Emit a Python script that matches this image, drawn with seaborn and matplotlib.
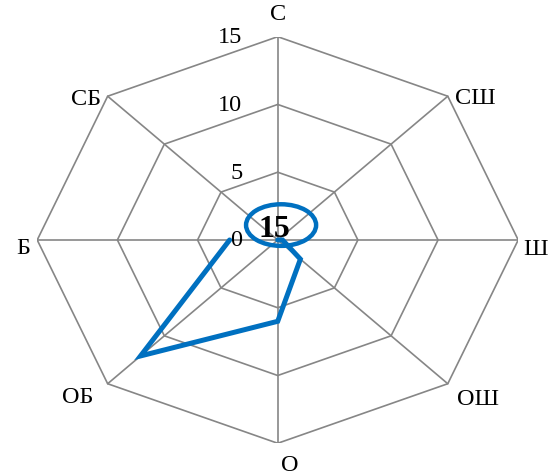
import numpy as np
import pandas as pd
import matplotlib
matplotlib.use("Agg")
import matplotlib.pyplot as plt
from matplotlib.patches import Ellipse
import seaborn as sns

# ============================================================================
# Data
# ============================================================================
directions = ["С", "СШ", "Ш", "ОШ", "О", "ОБ", "Б", "СБ"]
values = [0, 0, 0.3, 2.0, 6.0, 12.1, 3.0, 0]
ring_levels = [0, 5, 10, 15]
calm_label = "15"

# label offsets in pixels (dx, dy), with alignment
label_offsets = {
    "С": (0, 13, "center", "bottom"),
    "СШ": (7, -1, "left", "center"),
    "Ш": (5, -9, "left", "center"),
    "ОШ": (9, -15, "left", "center"),
    "О": (12, -11, "center", "top"),
    "ОБ": (-14, -13, "right", "center"),
    "Б": (-7, -8, "right", "center"),
    "СБ": (-7, -2, "right", "center"),
}

sns.set_theme(style="white")
plt.rcParams['font.family'] = ['Liberation Serif', 'DejaVu Serif']

line_color = "#0070C0"
grid_color = "#868686"

fig = plt.figure(figsize=(5.53, 4.77), dpi=100, facecolor="white")
ax = fig.add_axes([0.0673, 0.0686, 0.8698, 0.8524])
rmax = max(ring_levels)
ax.set_xlim(-rmax, rmax)
ax.set_ylim(-rmax, rmax)
ax.axis("off")

angles = np.deg2rad(90 - 45 * np.arange(len(directions)))

# grid: octagons and spokes
for lvl in ring_levels[1:]:
    gx = np.append(lvl * np.cos(angles), lvl * np.cos(angles[0]))
    gy = np.append(lvl * np.sin(angles), lvl * np.sin(angles[0]))
    ax.plot(gx, gy, color=grid_color, lw=1.2, zorder=1)
for a in angles:
    ax.plot([0, rmax * np.cos(a)], [0, rmax * np.sin(a)], color=grid_color, lw=1.2, zorder=1)

# radial tick labels
for lvl in ring_levels:
    ax.text(-2.2, lvl, str(lvl), ha="right", va="center", fontsize=17.5, color="black", zorder=3)

# direction labels
for name, a in zip(directions, angles):
    dx, dy, ha, va = label_offsets[name]
    ax.annotate(name, (rmax * np.cos(a), rmax * np.sin(a)), xytext=(dx, dy),
                textcoords="offset pixels", ha=ha, va=va, fontsize=17.5, color="black")

# data polygon
df = pd.DataFrame({"dir": directions + directions[:1], "val": values + values[:1]})
ang = np.append(angles, angles[0])
df["x"] = df["val"] * np.cos(ang)
df["y"] = df["val"] * np.sin(ang)
sns.lineplot(data=df, x="x", y="y", sort=False, color=line_color, lw=3.6, ax=ax,
             zorder=4, solid_joinstyle="miter")
ax.set_xlabel("")
ax.set_ylabel("")

# calm annotation
ax.text(-0.23, 0.85, calm_label, ha="center", va="center", fontsize=23,
        fontweight="bold", color="black", zorder=5)
ax.add_patch(Ellipse((0.21, 1.1), 4.37, 3.07, fill=False, edgecolor=line_color, lw=3.2, zorder=5))

fig.savefig("out.png", dpi=100, facecolor="white")
